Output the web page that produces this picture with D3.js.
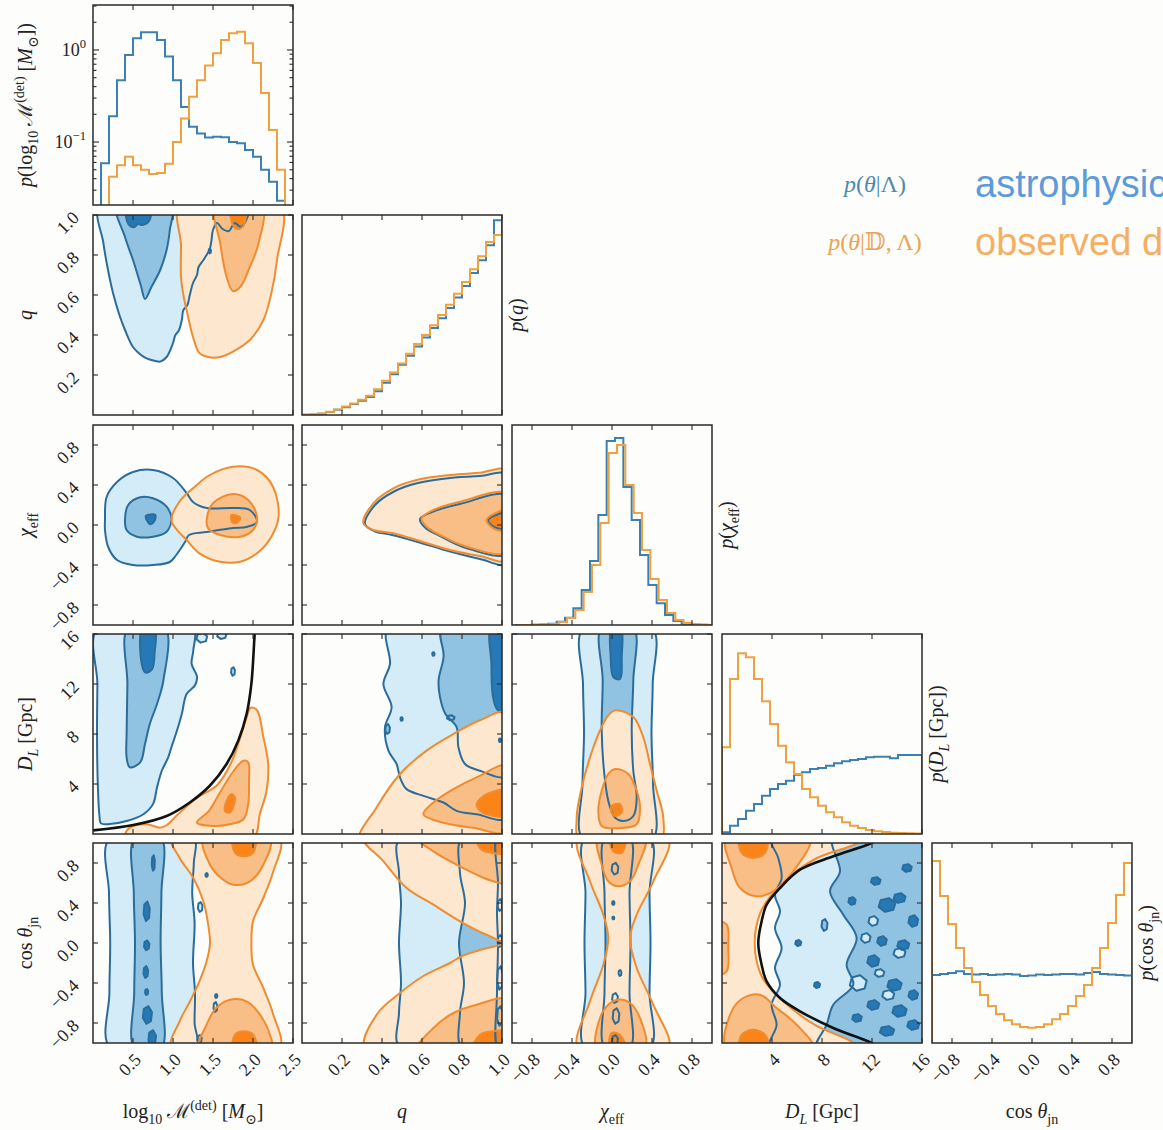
<!DOCTYPE html>
<html><head><meta charset="utf-8">
<script src="https://cdn.jsdelivr.net/npm/d3@7"></script>
<style>
body{margin:0;background:#fdfdfc;}
svg{display:block;}
text{white-space:pre;}
</style></head><body>
<svg id="chart" width="1163" height="1130"></svg>
<script>
// ---------- axes ----------
const domains = [[0,2.5],[0,1],[-1,1],[0,16],[-1,1]];
const tickVals = [[0.5,1.0,1.5,2.0,2.5],[0.2,0.4,0.6,0.8,1.0],[-0.8,-0.4,0,0.4,0.8],[4,8,12,16],[-0.8,-0.4,0,0.4,0.8]];
const tickText = [['0.5','1.0','1.5','2.0','2.5'],['0.2','0.4','0.6','0.8','1.0'],['−0.8','−0.4','0.0','0.4','0.8'],['4','8','12','16'],['−0.8','−0.4','0.0','0.4','0.8']];

// ---------- 1D histograms ----------
const logM_blueStart = 0.1, logM_orangeStart = 0.2, logM_width = 0.1;
const logM_blue = [0.059,0.19,0.47,0.88,1.34,1.56,1.56,1.28,0.85,0.47,0.24,0.147,0.124,0.112,0.114,0.113,0.10,0.097,0.082,0.069,0.05,0.037,0.023];
const logM_orange = [0.042,0.056,0.069,0.056,0.05,0.045,0.046,0.058,0.1,0.18,0.31,0.47,0.68,0.92,1.28,1.52,1.58,1.18,0.72,0.34,0.135,0.05];
const logM_yDomain = [0.0207, 3.08];

const q_blue = [0.002,0.006,0.02,0.045,0.08,0.12,0.17,0.22,0.28,0.37,0.5,0.63,0.78,0.92,1.06,1.2,1.35,1.5,1.66,1.82,2.0,2.2,2.4,2.63,3.02];
const q_orange = [0.002,0.007,0.022,0.05,0.085,0.13,0.18,0.235,0.3,0.4,0.53,0.66,0.8,0.95,1.1,1.24,1.39,1.55,1.71,1.88,2.06,2.26,2.46,2.68,2.79];
const q_yMax = 3.1;

const chi_blueStart = -0.97, chi_orangeStart = -0.95, chi_width = 1/12;
const chi_blue = [0,0,0.002,0.005,0.013,0.033,0.073,0.167,0.35,0.64,1.1,1.84,1.87,1.38,1.05,0.7,0.4,0.217,0.1,0.04,0.013,0.005,0.002,0];
const chi_orange = [0,0,0.002,0.005,0.01,0.03,0.07,0.15,0.33,0.6,1.02,1.72,1.8,1.4,1.12,0.75,0.46,0.25,0.12,0.05,0.02,0.007,0.002,0];
const chi_yMax = 2.0;

const DL_width = 0.64;
const DL_blue = [0.017,0.083,0.15,0.233,0.3,0.383,0.45,0.5,0.533,0.593,0.617,0.65,0.66,0.683,0.707,0.727,0.74,0.75,0.767,0.773,0.773,0.757,0.79,0.79,0.79];
const DL_orange = [0.867,1.55,1.807,1.767,1.55,1.327,1.1,0.883,0.717,0.6,0.45,0.367,0.283,0.217,0.167,0.117,0.083,0.06,0.04,0.027,0.02,0.013,0.01,0.007,0.005];
const DL_yMax = 2.0;

const cos_width = 0.08;
const cos_blue = [0.68,0.69,0.70,0.717,0.69,0.685,0.69,0.68,0.685,0.69,0.685,0.67,0.675,0.685,0.68,0.685,0.69,0.69,0.685,0.7,0.71,0.69,0.685,0.68,0.675];
const cos_orange = [1.82,1.47,1.19,0.95,0.75,0.61,0.48,0.37,0.29,0.227,0.187,0.16,0.153,0.16,0.187,0.237,0.29,0.37,0.47,0.58,0.75,0.95,1.2,1.48,1.8];
const cos_yMax = 2.0;

// ---------- 2D credible regions: [level, [[x,y],...]] (0 outer, 1 middle, 2 inner) ----------
const qM_blue = [
  [0, [[0.09,1.05],[0.13,0.86],[0.2,0.7],[0.25,0.61],[0.33,0.5],[0.4,0.425],[0.5,0.34],[0.6,0.3],[0.67,0.283],[0.78,0.27],[0.84,0.267],[0.92,0.29],[1.0,0.36],[1.03,0.4],[1.07,0.42],[1.11,0.475],[1.13,0.525],[1.18,0.55],[1.21,0.6],[1.25,0.66],[1.3,0.7],[1.32,0.74],[1.38,0.775],[1.42,0.8],[1.46,0.83],[1.48,0.87],[1.5,0.925],[1.55,0.96],[1.62,0.93],[1.7,0.92],[1.77,0.96],[1.85,0.94],[1.92,0.98],[1.95,1.05]]],
  [1, [[0.3,1.05],[0.4,0.89],[0.5,0.775],[0.6,0.645],[0.65,0.58],[0.73,0.64],[0.84,0.725],[0.92,0.825],[0.96,0.925],[0.98,1.05]]],
  [2, [[0.42,1.05],[0.45,0.95],[0.52,0.94],[0.56,0.955],[0.62,0.95],[0.7,0.97],[0.72,1.05]]]
];
const qM_orange = [
  [0, [[1.09,1.05],[1.1,0.85],[1.1,0.69],[1.13,0.6],[1.17,0.525],[1.25,0.39],[1.33,0.31],[1.44,0.29],[1.59,0.29],[1.75,0.317],[1.96,0.375],[2.13,0.475],[2.23,0.61],[2.3,0.775],[2.34,1.05]]],
  [1, [[1.53,1.05],[1.59,0.86],[1.67,0.69],[1.75,0.62],[1.84,0.64],[1.96,0.74],[2.07,0.86],[2.11,1.05]]],
  [2, [[1.72,1.05],[1.75,0.95],[1.8,0.93],[1.87,0.94],[1.9,0.97],[1.92,1.05]]]
];
const qM_blueIsl = [[0,1.46,0.82,0.015,0.012]];

const chiM_blue = [
  [0, [[0.15,0.05],[0.17,0.28],[0.3,0.43],[0.5,0.53],[0.75,0.55],[1.0,0.47],[1.17,0.32],[1.25,0.23],[1.42,0.17],[1.75,0.17],[1.96,0.15],[2.05,0.03],[1.92,-0.02],[1.75,-0.03],[1.42,-0.07],[1.2,-0.1],[1.15,-0.17],[1.04,-0.3],[0.96,-0.37],[0.75,-0.4],[0.5,-0.4],[0.3,-0.35],[0.19,-0.22],[0.15,-0.05]]],
  [1, [[0.4,0.05],[0.44,0.2],[0.59,0.277],[0.75,0.267],[0.92,0.183],[0.98,0.067],[0.92,-0.067],[0.75,-0.117],[0.55,-0.117],[0.42,-0.05]]],
  [2, [[0.66,0.09],[0.78,0.1],[0.76,0.03],[0.71,0.01]]]
];
const chiM_orange = [
  [0, [[0.98,0.05],[1.08,0.233],[1.25,0.367],[1.46,0.5],[1.75,0.583],[2.05,0.55],[2.25,0.383],[2.32,0.083],[2.23,-0.117],[2.05,-0.283],[1.84,-0.367],[1.59,-0.367],[1.33,-0.283],[1.17,-0.15],[1.05,-0.05]]],
  [1, [[1.42,0.05],[1.5,0.217],[1.75,0.31],[1.94,0.25],[2.05,0.083],[2.0,-0.05],[1.84,-0.117],[1.59,-0.1],[1.44,-0.033]]],
  [2, [[1.73,0.1],[1.84,0.07],[1.79,0.02],[1.74,0.03]]]
];

const chiQ_blue = [
  [0, [[0.315,0.01],[0.365,0.2],[0.465,0.34],[0.58,0.42],[0.74,0.47],[0.89,0.49],[1.03,0.5],[1.03,-0.385],[0.89,-0.34],[0.74,-0.265],[0.57,-0.165],[0.45,-0.1],[0.36,-0.06]]],
  [1, [[0.59,0.06],[0.65,0.13],[0.79,0.21],[1.03,0.29],[1.03,-0.285],[0.82,-0.23],[0.69,-0.11],[0.615,-0.025]]],
  [2, [[0.93,0.05],[0.97,0.1],[1.03,0.12],[1.03,-0.03],[0.96,-0.02]]]
];
const chiQ_orange = [
  [0, [[0.307,0.017],[0.357,0.217],[0.457,0.367],[0.573,0.45],[0.74,0.5],[0.89,0.523],[1.03,0.545],[1.03,-0.35],[0.89,-0.31],[0.74,-0.25],[0.573,-0.15],[0.457,-0.083],[0.357,-0.05]]],
  [1, [[0.598,0.067],[0.657,0.15],[0.79,0.233],[1.03,0.31],[1.03,-0.267],[0.823,-0.217],[0.69,-0.1],[0.623,-0.017]]],
  [2, [[0.923,0.05],[0.965,0.117],[1.03,0.15],[1.03,-0.05],[0.957,-0.033]]]
];

const DLM_blue = [
  [0, [[0.06,16.5],[0.055,12],[0.05,8],[0.06,4],[0.08,1.5],[0.1,0.85],[0.21,0.8],[0.42,1.04],[0.63,1.58],[0.75,2.39],[0.8,3.72],[0.86,5.06],[0.94,6.13],[0.98,6.94],[1.05,8.28],[1.11,9.6],[1.17,11.2],[1.275,11.9],[1.3,12.6],[1.233,13.6],[1.254,14.7],[1.25,16.5]]],
  [1, [[0.44,16.5],[0.43,12],[0.42,8],[0.42,6.13],[0.46,5.33],[0.59,5.73],[0.65,7.2],[0.71,8.8],[0.8,10.4],[0.88,12.3],[0.9,16.5]]],
  [2, [[0.62,16.5],[0.62,13.3],[0.66,12.9],[0.74,13.2],[0.77,14.5],[0.77,16.5]]]
];
const DLM_orange = [
  [0, [[0.42,-0.5],[0.42,0.24],[0.5,0.64],[0.67,0.78],[0.84,0.51],[0.92,0.7],[1.05,1.5],[1.3,2.9],[1.55,3.9],[1.72,5.6],[1.83,7.5],[1.92,9.3],[1.97,10.1],[2.05,9.9],[2.13,7.74],[2.19,5.6],[2.17,3.46],[2.09,1.71],[1.98,-0.5]]],
  [1, [[1.3,0.91],[1.45,1.85],[1.6,3.46],[1.76,5.06],[1.88,5.86],[1.94,5.73],[1.95,4.26],[1.94,2.39],[1.88,1.18],[1.71,0.78],[1.5,0.64]]],
  [2, [[1.65,1.85],[1.67,2.65],[1.73,3.19],[1.775,2.92],[1.75,2.12],[1.71,1.71]]]
];
const DLM_blueIsl = [[0,1.75,13.0,0.025,0.35],[0,1.36,15.7,0.07,0.4],[0,1.61,15.9,0.06,0.3]];
const horizonM = [[0.0,0.29],[0.504,0.72],[0.921,1.44],[1.21,2.52],[1.46,3.86],[1.67,5.6],[1.816,7.47],[1.92,9.6],[1.98,12.03],[2.02,15.9],[2.03,16.6]];

const DLq_blue = [
  [0, [[0.432,16.5],[0.44,13.6],[0.407,12.0],[0.448,10.15],[0.415,8.55],[0.432,6.67],[0.473,5.6],[0.49,4.53],[0.523,3.59],[0.607,3.05],[0.707,2.52],[0.773,1.85],[0.873,1.58],[1.03,1.31],[1.03,16.5]]],
  [1, [[0.7,16.5],[0.708,14.2],[0.683,12.3],[0.69,10.95],[0.717,9.6],[0.773,8.55],[0.782,6.94],[0.815,5.6],[0.89,5.06],[1.03,4.66],[1.03,16.5]]],
  [2, [[0.947,16.5],[0.947,13.6],[0.955,10.95],[0.98,9.89],[1.03,9.76],[1.03,16.5]]]
];
const DLq_orange = [
  [0, [[0.29,-0.5],[0.373,2.12],[0.49,4.8],[0.623,6.67],[0.757,8.0],[0.89,9.1],[1.03,9.7],[1.03,-0.5]]],
  [1, [[0.607,1.58],[0.657,2.52],[0.757,3.59],[0.873,4.53],[1.03,5.47],[1.03,0.2],[0.857,0.5],[0.707,0.9]]],
  [2, [[0.873,2.39],[0.923,3.19],[1.03,3.46],[1.03,1.44],[0.923,1.58],[0.89,1.85]]]
];
const DLq_blueIsl = [[0,0.657,14.4,0.006,0.15],[0,0.498,9.2,0.006,0.15],[1,0.428,8.4,0.012,0.4],[1,0.744,9.3,0.02,0.2],[1,0.99,7.5,0.006,0.15]];

const DLchi_blue = [
  [0, [[-0.287,16.5],[-0.29,12],[-0.28,8],[-0.295,4],[-0.285,-0.5],[0.4,-0.5],[0.41,4],[0.395,8],[0.407,12],[0.4,16.5]]],
  [1, [[-0.103,16.5],[-0.093,12.3],[-0.103,8.28],[-0.08,5.06],[-0.037,2.65],[0.03,1.31],[0.113,1.04],[0.213,1.44],[0.247,2.92],[0.213,5.06],[0.197,8.28],[0.213,12.3],[0.213,16.5]]],
  [2, [[-0.003,16.5],[-0.013,14.2],[0.013,12.56],[0.08,12.4],[0.097,14.2],[0.087,16.5]]]
];
const DLchi_orange = [
  [0, [[0.033,9.89],[0.213,9.36],[0.313,7.74],[0.38,5.6],[0.447,3.46],[0.513,1.31],[0.48,-0.5],[-0.32,-0.5],[-0.353,1.31],[-0.303,3.72],[-0.22,6.13],[-0.12,8.28],[-0.037,9.49]]],
  [1, [[0.033,5.2],[0.163,4.8],[0.247,3.46],[0.28,2.12],[0.247,0.78],[0.05,0.46],[-0.103,0.64],[-0.137,1.85],[-0.103,3.46],[-0.037,4.8]]],
  [2, [[-0.003,2.25],[0.08,2.39],[0.097,1.71],[0.03,1.44],[-0.003,1.71]]]
];

const cosM_blue = [
  [0, [[0.21,1.05],[0.2,0.5],[0.215,0],[0.205,-0.5],[0.215,-1.05],[1.29,-1.05],[1.27,-0.8],[1.275,-0.5],[1.25,-0.2],[1.27,0.2],[1.24,0.5],[1.26,0.8],[1.254,1.05]]],
  [1, [[0.52,1.05],[0.51,0.5],[0.525,0],[0.515,-0.5],[0.52,-1.05],[0.854,-1.05],[0.86,-0.5],[0.845,0],[0.855,0.5],[0.85,1.05]]]
];
const cosM_blueIsl = [[2,0.754,0.8,0.02,0.08],[2,0.671,0.317,0.04,0.1],[2,0.671,-0.023,0.035,0.05],[2,0.66,-0.29,0.03,0.06],[2,0.67,-0.49,0.02,0.03],[2,0.68,-0.72,0.06,0.09],[2,0.74,-0.95,0.05,0.08],[0,1.42,0.68,0.015,0.02],[0,1.34,0.36,0.03,0.05],[0,1.54,-0.53,0.015,0.02],[0,1.53,-0.64,0.025,0.05],[0,1.33,-0.96,0.03,0.04]];
const cosM_orange = [
  [0, [[0.983,1.05],[1.083,0.85],[1.254,0.65],[1.379,0.417],[1.44,0.183],[1.4625,0.0],[1.42,-0.183],[1.33,-0.383],[1.2125,-0.583],[1.083,-0.783],[0.983,-1.05],[2.33,-1.05],[2.254,-0.717],[2.129,-0.45],[2.0,-0.217],[1.98,0.0],[2.0,0.217],[2.129,0.45],[2.254,0.717],[2.33,1.05]]],
  [1, [[1.379,1.05],[1.4625,0.783],[1.6,0.65],[1.754,0.583],[1.9625,0.617],[2.129,0.783],[2.2125,1.05]]],
  [1, [[1.33,-1.05],[1.42,-0.817],[1.54,-0.65],[1.7125,-0.567],[1.92,-0.583],[2.0875,-0.717],[2.2125,-0.917],[2.23,-1.05]]],
  [2, [[1.754,1.05],[1.775,0.9],[1.879,0.867],[2.0,0.9],[2.02,1.05]]],
  [2, [[1.754,-1.05],[1.775,-0.917],[1.879,-0.883],[2.0,-0.917],[2.04,-1.05]]]
];

const cosQ_blue = [
  [0, [[0.49,1.05],[0.485,0.7],[0.495,0.4],[0.485,0],[0.495,-0.4],[0.485,-0.7],[0.49,-1.05],[1.03,-1.05],[1.03,1.05]]],
  [1, [[0.8,1.05],[0.79,0.7],[0.815,0.4],[0.785,0],[0.81,-0.4],[0.79,-0.7],[0.8,-1.05],[1.03,-1.05],[1.03,1.05]]],
  [2, [[0.975,1.05],[0.98,0.6],[0.975,0.3],[0.98,0],[0.975,-0.5],[0.98,-1.05],[1.03,-1.05],[1.03,1.05]]]
];
const cosQ_blueIsl = [[2,0.99,0.38,0.012,0.06],[2,0.99,0.02,0.012,0.06],[2,0.99,-0.35,0.015,0.12],[2,0.99,-0.73,0.015,0.1]];
const cosQ_orange = [
  [0, [[0.307,1.05],[0.407,0.817],[0.523,0.55],[0.657,0.383],[0.79,0.217],[0.923,0.083],[1.03,0.02],[1.03,1.05]]],
  [0, [[1.03,-0.03],[0.95,-0.04],[0.89,-0.07],[0.8,-0.13],[0.74,-0.2],[0.607,-0.33],[0.49,-0.5],[0.373,-0.717],[0.315,-1.05],[1.03,-1.05]]],
  [1, [[0.573,1.05],[0.657,0.917],[0.773,0.783],[0.873,0.683],[0.957,0.617],[1.03,0.6],[1.03,1.05]]],
  [1, [[0.582,-1.05],[0.657,-0.85],[0.757,-0.7],[0.873,-0.617],[1.03,-0.567],[1.03,-1.05]]],
  [2, [[0.873,1.05],[0.898,0.933],[0.957,0.9],[1.03,0.9],[1.03,1.05]]],
  [2, [[0.857,-1.05],[0.89,-0.917],[0.957,-0.883],[1.03,-0.883],[1.03,-1.05]]]
];

const cosChi_blue = [
  [0, [[-0.27,1.05],[-0.265,0.5],[-0.275,0],[-0.265,-0.5],[-0.27,-1.05],[0.38,-1.05],[0.375,-0.5],[0.385,0],[0.375,0.5],[0.38,1.05]]],
  [1, [[-0.07,1.05],[-0.075,0.5],[-0.065,0],[-0.075,-0.5],[-0.07,-1.05],[0.18,-1.05],[0.175,-0.5],[0.185,0],[0.175,0.5],[0.18,1.05]]]
];
const cosChi_blueIsl = [[2,0.03,0.743,0.035,0.06],[2,0.013,0.4,0.012,0.02],[2,0.013,0.25,0.01,0.015],[2,0.08,-0.3,0.015,0.03],[2,0.03,-0.55,0.03,0.05],[2,0.04,-0.73,0.035,0.08],[2,0.03,-0.97,0.03,0.05]];
const cosChi_orange = [
  [0, [[-0.337,1.05],[-0.22,0.617],[-0.087,0.283],[-0.037,0.05],[-0.087,-0.217],[-0.22,-0.583],[-0.337,-1.05],[0.563,-1.05],[0.413,-0.617],[0.247,-0.25],[0.18,0.05],[0.247,0.283],[0.413,0.617],[0.563,1.05]]],
  [1, [[-0.137,1.05],[-0.103,0.783],[-0.037,0.617],[0.063,0.567],[0.18,0.617],[0.263,0.783],[0.33,1.05]]],
  [1, [[-0.15,-1.05],[-0.12,-0.75],[-0.037,-0.617],[0.063,-0.567],[0.18,-0.6],[0.28,-0.75],[0.33,-1.05]]],
  [2, [[-0.02,1.05],[0.013,0.917],[0.097,0.9],[0.13,1.05]]],
  [2, [[-0.02,-1.05],[-0.003,-0.9],[0.08,-0.917],[0.13,-1.05]]]
];

const cosDL_blue = [
  [0, [[3.97,1.05],[4.5,0.85],[4.77,0.65],[4.24,0.483],[4.64,0.317],[4.24,0.15],[4.77,-0.05],[4.24,-0.25],[4.64,-0.417],[3.97,-0.617],[4.37,-0.817],[3.84,-1.05],[16.5,-1.05],[16.5,1.05]]],
  [1, [[8.9,1.05],[9.44,0.717],[8.64,0.517],[9.7,0.283],[10.77,0.05],[9.97,-0.217],[10.5,-0.417],[8.9,-0.617],[8.37,-0.817],[7.57,-1.05],[16.5,-1.05],[16.5,1.05]]]
];
const cosDL_blueIsl = [[2,13.2,0.38,0.7,0.07],[2,14.2,0.45,0.5,0.05],[2,12.3,0.62,0.4,0.04],[2,15.3,0.22,0.4,0.06],[2,12.8,0.02,0.4,0.05],[2,14.5,-0.02,0.5,0.05],[2,12.1,-0.18,0.5,0.06],[2,13.8,-0.42,0.6,0.06],[2,15.3,-0.52,0.4,0.05],[2,12.1,-0.62,0.5,0.05],[2,14.2,-0.68,0.6,0.06],[2,10.8,-0.75,0.4,0.04],[2,13.2,-0.88,0.6,0.05],[2,15.3,-0.82,0.5,0.05],[2,14.8,0.75,0.4,0.04],[2,10.4,0.42,0.3,0.04],[1,8.2,0.18,0.25,0.06],[2,6.1,0.0,0.25,0.03],[2,7.6,-0.42,0.25,0.03],[0,12.1,0.22,0.4,0.05],[0,10.9,-0.4,0.7,0.08],[0,14.2,-0.1,0.5,0.05],[0,11.5,0.05,0.4,0.05],[0,13.3,-0.52,0.5,0.05],[0,12.6,-0.3,0.4,0.04]];
const cosDL_orange = [
  [0, [[-0.5,1.05],[11.0,1.05],[10.8,1.0],[7.6,0.85],[5.0,0.617],[3.25,0.35],[2.72,0.15],[2.62,0.0],[2.72,-0.15],[3.25,-0.35],[4.9,-0.583],[7.4,-0.817],[10.5,-1.0],[10.7,-1.05],[-0.5,-1.05]]],
  [1, [[0.37,1.05],[0.77,0.75],[1.44,0.55],[2.77,0.467],[4.1,0.517],[5.7,0.717],[7.04,1.05]]],
  [1, [[0.37,-1.05],[0.77,-0.683],[1.71,-0.55],[3.04,-0.517],[4.37,-0.65],[5.97,-0.817],[7.3,-1.05]]],
  [1, [[-0.5,0.217],[0.37,0.183],[0.5,-0.05],[0.37,-0.283],[-0.5,-0.317]]],
  [2, [[1.44,1.05],[1.57,0.9],[2.5,0.85],[3.44,0.9],[3.57,1.05]]],
  [2, [[1.44,-1.05],[1.57,-0.917],[2.5,-0.867],[3.44,-0.917],[3.7,-1.05]]]
];
// selection boundary in (cos θ_jn, D_L) pairs
const horizonCos = [[1.05,12.6],[1.0,11.97],[0.867,8.9],[0.733,6.24],[0.55,4.64],[0.383,3.57],[0.217,3.17],[0.0,2.9],[-0.217,3.17],[-0.383,3.57],[-0.55,4.64],[-0.683,6.24],[-0.85,8.9],[-1.0,11.97],[-1.05,12.6]];

// ---------- layout & style ----------
const colLeft = [93,302,512,722,932], rowTop = [5,215,425,634,843], PW = 200, PH = 200;
const C = {
  blueFill: ['#d4ebf8','#90c2e2','#2479b6'],
  orangeFill: ['#fde7cf','#f9be86','#fb8419'],
  blueLine: '#2a6d9c', orangeLine: '#f08c30',
  blueHist: '#3b80b0', orangeHist: '#efa03f', frame: '#2a2a2a'
};
const serif = "'Liberation Serif','DejaVu Serif',serif";
const tickFont = 18;

const svg = d3.select('#chart');
svg.append('rect').attr('width',1163).attr('height',1130).attr('fill','#fdfdfc');
const defs = svg.append('defs');

const xScale = c => d3.scaleLinear().domain(domains[c]).range([colLeft[c], colLeft[c]+PW]);
const yScale = r => d3.scaleLinear().domain(domains[r]).range([rowTop[r]+PH, rowTop[r]]);

function richText(sel, parts, size) {
  let cur = 0;
  parts.forEach(p => {
    const target = p.sub ? size*0.28 : (p.sup ? -size*0.42 : 0);
    sel.append('tspan')
      .attr('dy', (target - cur).toFixed(2))
      .style('font-size', ((p.sub||p.sup) ? size*0.7 : size) + 'px')
      .style('font-style', p.i ? 'italic' : 'normal')
      .text(p.t);
    cur = target;
  });
}

function clipFor(r, c) {
  const id = `clip-${r}-${c}`;
  defs.append('clipPath').attr('id', id).append('rect')
    .attr('x', colLeft[c]).attr('y', rowTop[r]).attr('width', PW).attr('height', PH);
  return `url(#${id})`;
}

function frame(r, c) {
  svg.append('rect').attr('x', colLeft[c]).attr('y', rowTop[r]).attr('width', PW).attr('height', PH)
    .attr('fill','none').attr('stroke', C.frame).attr('stroke-width', 1.5);
}

function xTicks(r, c, len=5) {
  const xs = xScale(c), g = svg.append('g').attr('stroke', C.frame).attr('stroke-width', 1.1);
  tickVals[c].forEach(v => {
    g.append('line').attr('x1', xs(v)).attr('x2', xs(v)).attr('y1', rowTop[r]).attr('y2', rowTop[r]+len);
    g.append('line').attr('x1', xs(v)).attr('x2', xs(v)).attr('y1', rowTop[r]+PH).attr('y2', rowTop[r]+PH-len);
  });
}
function yTicks(r, c, len=5) {
  const ys = yScale(r), g = svg.append('g').attr('stroke', C.frame).attr('stroke-width', 1.1);
  tickVals[r].forEach(v => {
    g.append('line').attr('y1', ys(v)).attr('y2', ys(v)).attr('x1', colLeft[c]).attr('x2', colLeft[c]+len);
    g.append('line').attr('y1', ys(v)).attr('y2', ys(v)).attr('x1', colLeft[c]+PW).attr('x2', colLeft[c]+PW-len);
  });
}

// small isolated patches as hexagons in data units
const blobPts = ([lv, cx, cy, rx, ry]) => d3.range(6).map(k => [cx + rx*Math.cos(k*Math.PI/3 + 0.3), cy + ry*Math.sin(k*Math.PI/3 + 0.3)]);

function drawPair(p) {
  const xs = xScale(p.c), ys = yScale(p.r);
  const g = svg.append('g').attr('clip-path', clipFor(p.r, p.c));
  const smooth = d3.line().x(d => xs(d[0])).y(d => ys(d[1])).curve(d3.curveCatmullRomClosed.alpha(0.5));
  const sharp = d3.line().x(d => xs(d[0])).y(d => ys(d[1])).curve(d3.curveLinearClosed);
  const bShapes = [...p.blue].sort((a,b) => a[0]-b[0]).map(d => [d[0], d[1], smooth])
    .concat((p.bIsl||[]).map(b => [b[0], blobPts(b), sharp]));
  const oShapes = [...p.orange].sort((a,b) => a[0]-b[0]).map(d => [d[0], d[1], smooth]);
  g.selectAll(null).data(bShapes).join('path').attr('d', d => d[2](d[1])).attr('fill', d => C.blueFill[d[0]]);
  g.selectAll(null).data(oShapes).join('path').attr('d', d => d[2](d[1])).attr('fill', d => C.orangeFill[d[0]]);
  g.selectAll(null).data(bShapes).join('path').attr('d', d => d[2](d[1])).attr('fill','none')
    .attr('stroke', C.blueLine).attr('stroke-width', 2).attr('stroke-linejoin','round');
  g.selectAll(null).data(oShapes).join('path').attr('d', d => d[2](d[1])).attr('fill','none')
    .attr('stroke', C.orangeLine).attr('stroke-width', 2).attr('stroke-linejoin','round');
  if (p.curve) {
    const cl = d3.line().x(d => xs(p.curveXY(d)[0])).y(d => ys(p.curveXY(d)[1])).curve(d3.curveCatmullRom.alpha(0.5));
    g.append('path').attr('d', cl(p.curve)).attr('fill','none').attr('stroke','#111').attr('stroke-width', 2.6);
  }
  frame(p.r, p.c); xTicks(p.r, p.c); yTicks(p.r, p.c);
}

function stepPath(xs, ys, start, width, vals, floor) {
  const pts = [[start, floor]];
  vals.forEach((v, i) => pts.push([start + i*width, Math.max(v, floor)]));
  pts.push([start + vals.length*width, Math.max(vals[vals.length-1], floor)]);
  pts.push([start + vals.length*width, floor]);
  return d3.line().x(d => xs(d[0])).y(d => ys(d[1])).curve(d3.curveStepAfter)(pts);
}

function drawHist(i, ys, series, floor) {
  const xs = xScale(i);
  const g = svg.append('g').attr('clip-path', clipFor(i, i));
  series.forEach(s => {
    g.append('path').attr('d', stepPath(xs, ys, s.start, s.width, s.vals, floor))
      .attr('fill','none').attr('stroke', s.color).attr('stroke-width', 2);
  });
  frame(i, i); xTicks(i, i);
}

// ---------- diagonal ----------
const yLog = d3.scaleLog().domain(logM_yDomain).range([rowTop[0]+PH, rowTop[0]]);
drawHist(0, yLog, [
  {start: logM_blueStart, width: logM_width, vals: logM_blue, color: C.blueHist},
  {start: logM_orangeStart, width: logM_width, vals: logM_orange, color: C.orangeHist}
], 0.015);
{
  const g = svg.append('g').attr('stroke', C.frame).attr('stroke-width', 1.1);
  const major = [0.1, 1], minor = [0.03,0.04,0.05,0.06,0.07,0.08,0.09,0.2,0.3,0.4,0.5,0.6,0.7,0.8,0.9,2,3];
  major.concat(minor).forEach(v => {
    const L = major.includes(v) ? 6 : 3.5;
    g.append('line').attr('x1', colLeft[0]).attr('x2', colLeft[0]+L).attr('y1', yLog(v)).attr('y2', yLog(v));
    g.append('line').attr('x1', colLeft[0]+PW).attr('x2', colLeft[0]+PW-L).attr('y1', yLog(v)).attr('y2', yLog(v));
  });
  [[1,'0'],[0.1,'−1']].forEach(([v, e]) => {
    const t = svg.append('text').attr('x', colLeft[0]-7).attr('y', yLog(v)+6).attr('text-anchor','end')
      .attr('font-family', serif).attr('fill','#222');
    richText(t, [{t:'10'},{t:e, sup:true}], tickFont);
  });
}
const linHist = (i, yMax) => d3.scaleLinear().domain([0, yMax]).range([rowTop[i]+PH, rowTop[i]]);
drawHist(1, linHist(1, q_yMax), [
  {start: 0, width: 0.04, vals: q_blue, color: C.blueHist},
  {start: 0, width: 0.04, vals: q_orange, color: C.orangeHist}
], 0);
drawHist(2, linHist(2, chi_yMax), [
  {start: chi_blueStart, width: chi_width, vals: chi_blue, color: C.blueHist},
  {start: chi_orangeStart, width: chi_width, vals: chi_orange, color: C.orangeHist}
], 0);
drawHist(3, linHist(3, DL_yMax), [
  {start: 0, width: DL_width, vals: DL_blue, color: C.blueHist},
  {start: 0, width: DL_width, vals: DL_orange, color: C.orangeHist}
], 0);
drawHist(4, linHist(4, cos_yMax), [
  {start: -1, width: cos_width, vals: cos_blue, color: C.blueHist},
  {start: -1, width: cos_width, vals: cos_orange, color: C.orangeHist}
], 0);

// ---------- off-diagonal ----------
const pairs = [
  {r:1, c:0, blue: qM_blue, orange: qM_orange, bIsl: qM_blueIsl},
  {r:2, c:0, blue: chiM_blue, orange: chiM_orange},
  {r:2, c:1, blue: chiQ_blue, orange: chiQ_orange},
  {r:3, c:0, blue: DLM_blue, orange: DLM_orange, bIsl: DLM_blueIsl, curve: horizonM, curveXY: d => d},
  {r:3, c:1, blue: DLq_blue, orange: DLq_orange, bIsl: DLq_blueIsl},
  {r:3, c:2, blue: DLchi_blue, orange: DLchi_orange},
  {r:4, c:0, blue: cosM_blue, orange: cosM_orange, bIsl: cosM_blueIsl},
  {r:4, c:1, blue: cosQ_blue, orange: cosQ_orange, bIsl: cosQ_blueIsl},
  {r:4, c:2, blue: cosChi_blue, orange: cosChi_orange, bIsl: cosChi_blueIsl},
  {r:4, c:3, blue: cosDL_blue, orange: cosDL_orange, bIsl: cosDL_blueIsl, curve: horizonCos, curveXY: d => [d[1], d[0]]}
];
pairs.forEach(drawPair);

// ---------- tick labels ----------
for (let r = 1; r < 5; r++) {
  const ys = yScale(r);
  tickVals[r].forEach((v, k) => {
    svg.append('text').attr('transform', `translate(${colLeft[0]-13},${ys(v)+4}) rotate(-45)`)
      .attr('text-anchor','end').attr('font-family', serif).attr('font-size', tickFont).attr('fill','#222')
      .text(tickText[r][k]);
  });
}
for (let c = 0; c < 5; c++) {
  const xs = xScale(c);
  tickVals[c].forEach((v, k) => {
    svg.append('text').attr('transform', `translate(${xs(v)+9},${rowTop[4]+PH+18}) rotate(-45)`)
      .attr('text-anchor','end').attr('font-family', serif).attr('font-size', tickFont).attr('fill','#222')
      .text(tickText[c][k]);
  });
}

// ---------- axis labels ----------
const lab = {
  logM: [{t:'log'},{t:'10',sub:true},{t:' ℳ'},{t:'(det)',sup:true},{t:' ['},{t:'M',i:true},{t:'⊙',sub:true},{t:']'}],
  q: [{t:'q',i:true}],
  chi: [{t:'χ',i:true},{t:'eff',sub:true}],
  DL: [{t:'D',i:true},{t:'L',i:true,sub:true},{t:' [Gpc]'}],
  cos: [{t:'cos '},{t:'θ',i:true},{t:'jn',sub:true}]
};
const keys = ['logM','q','chi','DL','cos'];
const wrapP = parts => [{t:'p',i:true},{t:'('}].concat(parts).concat([{t:')'}]);
const labelSize = 20;

// left column
keys.forEach((k, r) => {
  const t = svg.append('text').attr('transform', `translate(32,${rowTop[r]+PH/2}) rotate(-90)`)
    .attr('text-anchor','middle').attr('font-family', serif).attr('fill','#222');
  richText(t, r === 0 ? wrapP(lab.logM) : lab[k], labelSize);
});
// bottom row
keys.forEach((k, c) => {
  const t = svg.append('text').attr('x', colLeft[c]+PW/2).attr('y', 1118)
    .attr('text-anchor','middle').attr('font-family', serif).attr('fill','#222');
  richText(t, lab[k], labelSize);
});
// diagonal densities
keys.forEach((k, i) => {
  if (i === 0) return;
  const t = svg.append('text').attr('transform', `translate(${colLeft[i]+PW+21},${rowTop[i]+PH/2}) rotate(-90)`)
    .attr('text-anchor','middle').attr('font-family', serif).attr('fill','#222');
  richText(t, wrapP(lab[k]), labelSize);
});

// ---------- legend ----------
{
  const t1 = svg.append('text').attr('x', 875).attr('y', 192).attr('text-anchor','middle')
    .attr('font-family', serif).attr('fill','#4d8ab0');
  richText(t1, [{t:'p',i:true},{t:'('},{t:'θ',i:true},{t:'|Λ)'}], 24);
  const t2 = svg.append('text').attr('x', 875).attr('y', 250).attr('text-anchor','middle')
    .attr('font-family', serif).attr('fill','#eaa352');
  richText(t2, [{t:'p',i:true},{t:'('},{t:'θ',i:true},{t:'|𝔻, Λ)'}], 24);
  svg.append('text').attr('x', 975).attr('y', 197).attr('font-family', "'Liberation Sans','Arimo',sans-serif")
    .attr('font-size', 38).attr('fill','#5d9bd8').text('astrophysical');
  svg.append('text').attr('x', 975).attr('y', 255).attr('font-family', "'Liberation Sans','Arimo',sans-serif")
    .attr('font-size', 38).attr('fill','#f3b064').text('observed detections');
}
</script></body></html>
